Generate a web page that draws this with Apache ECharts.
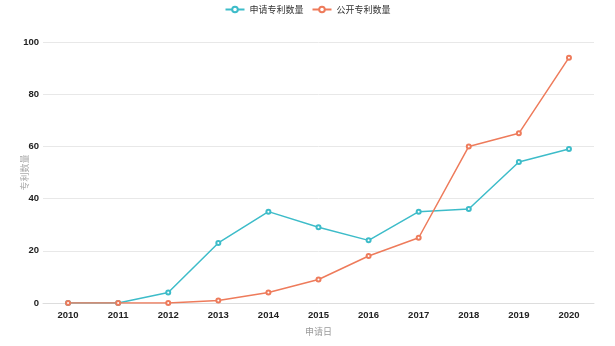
<!DOCTYPE html>
<html>
<head>
<meta charset="utf-8">
<script src="https://cdn.jsdelivr.net/npm/echarts@6/dist/echarts.min.js"></script>
<style>
html,body{margin:0;padding:0;background:#fff;}
#chart{width:615px;height:346px;}
</style>
</head>
<body>
<div id="chart"></div>
<script>
// 年份与两组专利数量
var years = ['2010','2011','2012','2013','2014','2015','2016','2017','2018','2019','2020'];
var applied = [0, 0, 4, 23, 35, 29, 24, 35, 36, 54, 59];
var published = [0, 0, 0, 1, 4, 9, 18, 25, 60, 65, 94];
var yTicks = { min: 0, max: 100, interval: 20 };

var font = '"Noto Sans CJK SC", "Noto Sans", sans-serif';
var labelFont = '"Liberation Sans", "Noto Sans", sans-serif';
var chart = echarts.init(document.getElementById('chart'));
chart.setOption({
  animation: false,
  textStyle: { fontFamily: font },
  legend: {
    top: 0,
    left: 'center',
    itemWidth: 19,
    itemHeight: 7,
    itemGap: 8,
    textStyle: { fontSize: 9, color: '#333', fontFamily: font },
    data: ['申请专利数量', '公开专利数量']
  },
  grid: { left: 43, right: 21, top: 42, bottom: 43, containLabel: false, outerBoundsMode: 'none' },
  xAxis: {
    type: 'category',
    data: years,
    boundaryGap: true,
    name: '申请日',
    nameLocation: 'middle',
    nameGap: 24,
    nameMoveOverlap: false,
    nameTextStyle: { color: '#999', fontSize: 9 },
    axisLine: { lineStyle: { color: '#ddd', width: 1 } },
    axisTick: { show: false },
    axisLabel: { color: '#222', fontSize: 9.5, fontWeight: 'bold', margin: 7, fontFamily: labelFont }
  },
  yAxis: {
    type: 'value',
    min: yTicks.min,
    max: yTicks.max,
    interval: yTicks.interval,
    name: '专利数量',
    nameLocation: 'middle',
    nameGap: 14,
    nameMoveOverlap: false,
    nameRotate: 90,
    nameTextStyle: { color: '#aaa', fontSize: 9 },
    axisLine: { show: false },
    axisTick: { show: false },
    splitLine: { lineStyle: { color: '#e8e8e8' } },
    axisLabel: { color: '#222', fontSize: 9.5, fontWeight: 'bold', margin: 4, fontFamily: labelFont }
  },
  series: [
    {
      name: '申请专利数量',
      type: 'line',
      data: applied,
      symbol: 'emptyCircle',
      symbolSize: 4,
      itemStyle: { color: '#3dbcc9', borderWidth: 0.8 },
      lineStyle: { color: '#3dbcc9', width: 1.5 }
    },
    {
      name: '公开专利数量',
      type: 'line',
      data: published,
      symbol: 'emptyCircle',
      symbolSize: 4,
      itemStyle: { color: '#ee7b5b', borderWidth: 0.8 },
      lineStyle: { color: '#ee7b5b', width: 1.5 }
    }
  ]
});
</script>
</body>
</html>
